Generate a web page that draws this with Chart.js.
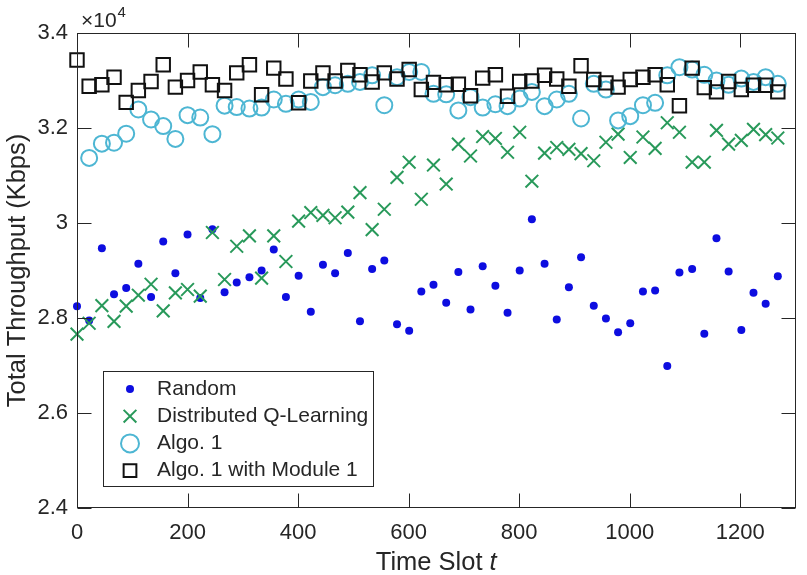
<!DOCTYPE html>
<html>
<head>
<meta charset="utf-8">
<title>Total Throughput vs Time Slot</title>
<script src="https://cdn.jsdelivr.net/npm/chart.js@4.4.1/dist/chart.umd.min.js"></script>
<style>
  html, body { margin: 0; padding: 0; background: #fff; }
  #wrap { width: 807px; height: 575px; }
</style>
</head>
<body>
<div id="wrap"><canvas id="throughputChart" width="807" height="575"></canvas></div>
<script>
// sample positions (time slot index)
const timeSlots = [0, 22, 45, 67, 89, 111, 134, 156, 178, 200, 223, 245, 267, 289, 312, 334, 356, 378, 401, 423,
    445, 467, 490, 512, 534, 556, 579, 601, 623, 645, 668, 690, 712, 734, 757, 779, 801, 823, 846, 868,
    890, 912, 935, 957, 979, 1001, 1024, 1046, 1068, 1090, 1113, 1135, 1157, 1179, 1202, 1224, 1246, 1268];

// throughput values, in units of 10^4 Kbps
const randomTput = [2.825, 2.795, 2.947, 2.850, 2.863, 2.914, 2.844, 2.961, 2.894, 2.976, 2.842, 2.987, 2.854, 2.875, 2.886, 2.900, 2.944, 2.844, 2.889, 2.813,
    2.912, 2.894, 2.937, 2.793, 2.903, 2.921, 2.787, 2.773, 2.856, 2.870, 2.832, 2.897, 2.818, 2.909, 2.868, 2.811, 2.900, 3.008, 2.914, 2.797,
    2.865, 2.928, 2.826, 2.799, 2.770, 2.789, 2.856, 2.858, 2.699, 2.896, 2.903, 2.767, 2.968, 2.898, 2.775, 2.853, 2.830, 2.888];

const qLearningTput = [2.766, 2.789, 2.826, 2.793, 2.825, 2.848, 2.871, 2.815, 2.853, 2.860, 2.846, 2.980, 2.881, 2.951, 2.973, 2.884, 2.973, 2.919, 3.004, 3.022,
    3.016, 3.011, 3.023, 3.064, 2.986, 3.029, 3.096, 3.128, 3.050, 3.122, 3.082, 3.166, 3.141, 3.182, 3.178, 3.149, 3.191, 3.088, 3.147, 3.159,
    3.155, 3.146, 3.131, 3.170, 3.187, 3.138, 3.181, 3.157, 3.211, 3.191, 3.128, 3.128, 3.195, 3.166, 3.174, 3.197, 3.186, 3.179];

const algo1Tput = [null, 3.137, 3.167, 3.169, 3.188, 3.239, 3.218, 3.204, 3.177, 3.227, 3.222, 3.187, 3.247, 3.244, 3.241, 3.243, 3.260, 3.251, 3.260, 3.255,
    3.286, 3.290, 3.293, 3.297, 3.311, 3.248, 3.307, 3.318, 3.318, 3.272, 3.271, 3.237, 3.265, 3.243, 3.250, 3.246, 3.262, 3.276, 3.246, 3.260,
    3.272, 3.220, 3.293, 3.281, 3.216, 3.225, 3.248, 3.253, 3.311, 3.328, 3.323, 3.312, 3.300, 3.291, 3.304, 3.297, 3.307, 3.293];

const algo1ModuleTput = [3.343, 3.288, 3.291, 3.307, 3.254, 3.279, 3.298, 3.333, 3.286, 3.300, 3.318, 3.291, 3.279, 3.316, 3.333, 3.270, 3.326, 3.303, 3.253, 3.299,
    3.316, 3.299, 3.321, 3.312, 3.297, 3.316, 3.303, 3.323, 3.281, 3.296, 3.291, 3.292, 3.268, 3.305, 3.312, 3.267, 3.298, 3.299, 3.311, 3.303,
    3.288, 3.331, 3.302, 3.295, 3.286, 3.302, 3.307, 3.312, 3.291, 3.247, 3.326, 3.285, 3.276, 3.298, 3.281, 3.290, 3.290, 3.276];

const seriesNames = ["Random", "Distributed Q-Learning", "Algo. 1", "Algo. 1 with Module 1"];
const xTickValues = [0, 200, 400, 600, 800, 1000, 1200];
const xTickLabels = ["0", "200", "400", "600", "800", "1000", "1200"];
const yTickValues = [2.4, 2.6, 2.8, 3.0, 3.2, 3.4];
const yTickLabels = ["2.4", "2.6", "2.8", "3", "3.2", "3.4"];

const axisColor = "#262626";
const fontFamily = "'Liberation Sans', Arial, Helvetica, sans-serif";
const blue = "#0d0de0";
const green = "#28995a";
const cyan = "#4db6d3";
const black = "#111111";

function toPoints(values) {
    return timeSlots.map((t, i) => ({ x: t, y: values[i] }));
}

// small marker drawer for the legend box
function drawMarker(ctx, style, x, y) {
    ctx.save();
    ctx.strokeStyle = style.color;
    ctx.fillStyle = style.color;
    ctx.lineWidth = style.width;
    ctx.beginPath();
    if (style.kind === "dot") {
        ctx.arc(x, y, style.r, 0, Math.PI * 2);
        ctx.fill();
    } else if (style.kind === "cross") {
        const d = style.r * Math.SQRT1_2;
        ctx.moveTo(x - d, y - d); ctx.lineTo(x + d, y + d);
        ctx.moveTo(x - d, y + d); ctx.lineTo(x + d, y - d);
        ctx.stroke();
    } else if (style.kind === "ring") {
        ctx.arc(x, y, style.r, 0, Math.PI * 2);
        ctx.stroke();
    } else {
        const d = style.r * Math.SQRT1_2;
        ctx.rect(x - d, y - d, 2 * d, 2 * d);
        ctx.stroke();
    }
    ctx.restore();
}

const legendMarkers = [
    { kind: "dot", color: blue, r: 4, width: 0 },
    { kind: "cross", color: green, r: 9, width: 2 },
    { kind: "ring", color: cyan, r: 9, width: 2 },
    { kind: "square", color: black, r: 9, width: 2 }
];

// MATLAB-like box: frame, inward ticks, x label, exponent, legend
const boxPlugin = {
    id: "boxPlugin",
    afterDatasetsDraw(chart) {
        const { ctx, chartArea: a, scales } = chart;
        const tick = 14;
        const L = Math.round(a.left) + 0.5;
        const R = Math.round(a.right) - 0.5;
        const T = Math.round(a.top) + 0.5;
        const B = Math.round(a.bottom) - 0.5;

        ctx.save();
        ctx.strokeStyle = axisColor;
        ctx.lineWidth = 1;
        ctx.strokeRect(L, T, R - L, B - T);
        ctx.beginPath();
        xTickValues.forEach(v => {
            const px = Math.round(scales.x.getPixelForValue(v)) + 0.5;
            ctx.moveTo(px, B); ctx.lineTo(px, B - tick);
            ctx.moveTo(px, T); ctx.lineTo(px, T + tick);
        });
        yTickValues.forEach(v => {
            const py = Math.round(scales.y.getPixelForValue(v)) + 0.5;
            ctx.moveTo(L, py); ctx.lineTo(L + tick, py);
            ctx.moveTo(R, py); ctx.lineTo(R - tick, py);
        });
        ctx.stroke();

        // exponent label
        ctx.fillStyle = axisColor;
        ctx.textBaseline = "alphabetic";
        ctx.textAlign = "left";
        ctx.font = "21px " + fontFamily;
        ctx.fillText("\u00d710", 81, 26.5);
        const w = ctx.measureText("\u00d710").width;
        ctx.font = "15px " + fontFamily;
        ctx.fillText("4", 81 + w + 1, 16.5);

        // x axis label with italic t
        ctx.textBaseline = "middle";
        ctx.font = "25.5px " + fontFamily;
        const part1 = "Time Slot ";
        const w1 = ctx.measureText(part1).width;
        ctx.font = "italic 25.5px " + fontFamily;
        const w2 = ctx.measureText("t").width;
        const startX = (a.left + a.right) / 2 - (w1 + w2) / 2;
        ctx.font = "25.5px " + fontFamily;
        ctx.fillText(part1, startX, 563);
        ctx.font = "italic 25.5px " + fontFamily;
        ctx.fillText("t", startX + w1, 563);

        // legend
        ctx.fillStyle = "#ffffff";
        ctx.fillRect(103.5, 371.5, 270, 115);
        ctx.strokeRect(103.5, 371.5, 270, 115);
        ctx.font = "21px " + fontFamily;
        seriesNames.forEach((name, i) => {
            const y = 389 + 27.2 * i;
            drawMarker(ctx, legendMarkers[i], 130, y);
            ctx.fillStyle = axisColor;
            ctx.fillText(name, 157, y);
        });
        ctx.restore();
    }
};

const ctx = document.getElementById("throughputChart");

new Chart(ctx, {
    type: "scatter",
    data: {
        datasets: [
            {
                label: seriesNames[0],
                data: toPoints(randomTput),
                pointStyle: "circle",
                pointRadius: 4,
                pointBackgroundColor: blue,
                pointBorderColor: blue,
                pointBorderWidth: 0,
                clip: false,
                order: 4
            },
            {
                label: seriesNames[1],
                data: toPoints(qLearningTput),
                pointStyle: "crossRot",
                pointRadius: 9,
                pointBorderColor: green,
                pointBackgroundColor: green,
                pointBorderWidth: 2,
                clip: false,
                order: 3
            },
            {
                label: seriesNames[2],
                data: toPoints(algo1Tput),
                pointStyle: "circle",
                pointRadius: 8,
                pointBorderColor: cyan,
                pointBackgroundColor: "rgba(0,0,0,0)",
                pointBorderWidth: 2,
                clip: false,
                order: 2
            },
            {
                label: seriesNames[3],
                data: toPoints(algo1ModuleTput),
                pointStyle: "rect",
                pointRadius: 9.5,
                pointBorderColor: black,
                pointBackgroundColor: "rgba(0,0,0,0)",
                pointBorderWidth: 2,
                clip: false,
                order: 1
            }
        ]
    },
    options: {
        responsive: false,
        animation: false,
        events: [],
        layout: { padding: { top: 33, right: 5, left: 0, bottom: 0 } },
        plugins: {
            legend: { display: false },
            tooltip: { enabled: false }
        },
        scales: {
            x: {
                type: "linear",
                min: 0,
                max: 1300,
                afterBuildTicks: s => { s.ticks = xTickValues.map(v => ({ value: v })); },
                afterFit: s => { s.height = 67; },
                grid: { display: false, drawTicks: false },
                border: { display: false },
                ticks: {
                    padding: 12,
                    color: axisColor,
                    maxRotation: 0,
                    font: { family: fontFamily, size: 22 },
                    callback: v => xTickLabels[xTickValues.indexOf(v)]
                }
            },
            y: {
                type: "linear",
                min: 2.4,
                max: 3.4,
                afterBuildTicks: s => { s.ticks = yTickValues.map(v => ({ value: v })); },
                afterFit: s => { s.width = 77; },
                grid: { display: false, drawTicks: false },
                border: { display: false },
                ticks: {
                    padding: 9,
                    color: axisColor,
                    font: { family: fontFamily, size: 22 },
                    callback: v => yTickLabels[yTickValues.indexOf(v)]
                },
                title: {
                    display: true,
                    text: "Total Throughput (Kbps)",
                    color: axisColor,
                    font: { family: fontFamily, size: 25.5, lineHeight: 1 },
                    padding: { top: 5.5, bottom: 0 }
                }
            }
        }
    },
    plugins: [boxPlugin]
});
</script>
</body>
</html>
